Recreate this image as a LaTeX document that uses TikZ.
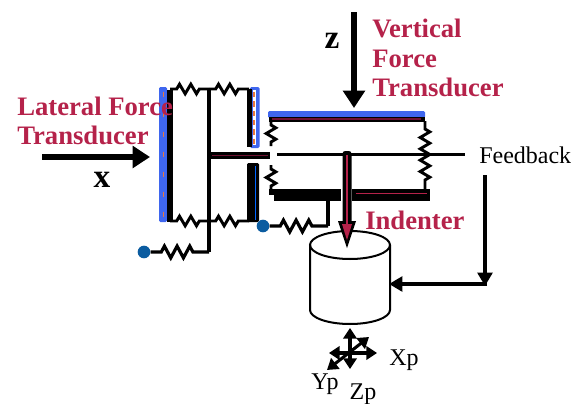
\documentclass[tikz,border=0pt]{standalone}
\usepackage{fontspec}
\setmainfont{Liberation Serif}
\usetikzlibrary{arrows.meta,decorations.pathmorphing,calc}
\definecolor{crim}{HTML}{B5224A}
\definecolor{plateblue}{HTML}{3F66EE}
\definecolor{dotblue}{HTML}{0B5CA0}
\definecolor{oran}{HTML}{E8783C}
\definecolor{maroon}{HTML}{6E1030}
\tikzset{
 wire/.style={black,line width=2.3pt,line join=round},
 spring/.style={black,line width=2.2pt,line join=miter,decorate,decoration={zigzag,segment length=8.5pt,amplitude=3.6pt,pre length=#1,post length=#1}},
 spring/.default=5pt,
 wide spring/.style={black,line width=2.4pt,line join=miter,decorate,decoration={zigzag,segment length=9.5pt,amplitude=4.4pt,pre length=#1,post length=#1}},
 plate/.style={fill=black,draw=none},
 blueplate/.style={fill=plateblue,draw=none,rounded corners=1pt},
 dot/.style={circle,fill=dotblue,draw=none,minimum size=9.5pt,inner sep=0pt},
 lab/.style={font=\fontsize{20pt}{22pt}\bfseries\selectfont,text=crim,align=left,anchor=west,inner sep=0pt},
 axlab/.style={font=\fontsize{18pt}{19pt}\selectfont,inner sep=0pt,anchor=center},
 bigarrow/.style={line width=3.8pt,-{Triangle[length=13pt,width=16pt]}},
 axarrow/.style={line width=2.3pt,{Triangle[length=8pt,width=10pt]}-{Triangle[length=8pt,width=10pt]}},
}
\begin{document}
\begin{tikzpicture}[x=0.75pt,y=-0.75pt]
\useasboundingbox (0,0) rectangle (587,404);
% named coordinates
\coordinate (tl) at (170,89); \coordinate (tm) at (209,89); \coordinate (tr) at (249,89);
\coordinate (bl) at (170,221); \coordinate (bm) at (209,221); \coordinate (br) at (249,221);
\coordinate (stemb) at (209,252);
\node[dot] (dotA) at (144,252) {};
\node[dot] (dotB) at (263,226) {};
\coordinate (armT) at (328,197); \coordinate (armB) at (328,226);
% left flexure
\fill[blueplate] (159,87) rectangle (167,222);
\draw[oran,line width=0.9pt,dash pattern=on 4pt off 11pt] (163.5,92) -- (163.5,220);
\fill[plate] (167,90) rectangle (173,222);
\fill[blueplate] (250,87) rectangle (259.5,148);
\fill[white] (253,90) rectangle (256,145);
\draw[oran,line width=0.9pt,dash pattern=on 4pt off 3pt] (254,92) -- (254,145);
\fill[plate] (247,89) rectangle (252,147);
\fill[plate,rounded corners=1pt] (247,163) rectangle (259,222);
\draw[blue!60!cyan,line width=0.6pt] (255,166) -- (255,220);
\draw[spring] (tl) -- (tm);
\draw[spring] (tm) -- (tr);
\draw[spring] (bl) -- (bm);
\draw[spring] (bm) -- (br);
\draw[wire] (tm) -- (stemb);
\draw[wide spring=8pt] (dotA) -- (stemb);
\fill[plate] (209,152) rectangle (270,159);
\draw[maroon,line width=1pt] (212,155.5) -- (268,155.5);
% right flexure
\fill[blueplate] (268,111) rectangle (425,118);
\fill[plate] (269,117) rectangle (425,122);
\draw[maroon,line width=1pt] (272,119) -- (421,119);
\draw[spring=3pt] (271,121) -- (271,146);
\draw[spring=3pt] (271,165) -- (271,191);
\draw[spring=6pt] (425,121) -- (425,191);
\fill[plate] (269,189) rectangle (341,195);
\fill[plate] (274,195) rectangle (341,201);
\fill[plate] (352,189) rectangle (430,201);
\draw[crim,line width=1.2pt] (356,193.5) -- (427,193.5);
\node[anchor=west,inner sep=0pt,font=\fontsize{18pt}{19pt}\selectfont] (fb) at (479,155) {Feedback};
\coordinate (beamL) at (277,154.5);
\coordinate (beamR) at (465,154.5);
\draw[line width=2.2pt] (beamL) -- (beamR);
\draw[wide spring=8pt] (dotB) -- (armB);
\draw[wire] (armB) -- (armT);
% cylinder
\draw[line width=1.5pt] (350,245) ellipse[x radius=40,y radius=14];
\draw[line width=1.5pt] (310,245) -- (310,310) arc[start angle=180,end angle=360,x radius=40,y radius=-14] -- (390,245);
% indenter
\fill[plate,rounded corners=2pt] (342.5,151) rectangle (351.5,226);
\fill[plate] (338,221) -- (356,221) -- (347,248) -- cycle;
\draw[crim,line width=1.4pt] (347,155) -- (347,226);
\fill[crim] (342,224) -- (352,224) -- (347,240) -- cycle;
% feedback loop
\coordinate (fbT) at (485,175); \coordinate (fbC) at (485,286); \coordinate (cyl) at (389,284);
\draw[line width=2.6pt,-{Triangle[length=10pt,width=11pt]}] (fbT) -- (fbC);
\draw[line width=2.6pt,-{Triangle[length=10pt,width=11pt]}] (487,284) -- (cyl);
% big arrows
\coordinate (zA) at (354,12); \coordinate (zB) at (354,108);
\draw[bigarrow] (zA) -- (zB);
\coordinate (xA) at (42,157); \coordinate (xB) at (150,157);
\draw[bigarrow] (xA) -- (xB);
% axes
\coordinate (up) at (350,328); \coordinate (dn) at (350,369);
\coordinate (lf) at (329,353); \coordinate (rt) at (377,353);
\coordinate (ne) at (369,337); \coordinate (sw) at (327,370);
\draw[axarrow] (up) -- (dn);
\draw[axarrow] (lf) -- (rt);
\draw[axarrow] (ne) -- (sw);
% labels
\node[lab] (vft) at (372,58) {\setlength{\baselineskip}{30pt}Vertical\\Force\\Transducer};
\node[lab] (lft) at (17,121) {\setlength{\baselineskip}{30pt}Lateral Force\\Transducer};
\node[lab] (ind) at (365,220) {Indenter};
\node[font=\fontsize{25pt}{26pt}\bfseries\selectfont,inner sep=0pt] (zl) at (332,41) {z};
\node[font=\fontsize{25pt}{26pt}\bfseries\selectfont,inner sep=0pt] (xl) at (102,180) {x};
\node[axlab] (xp) at (404,360) {Xp};
\node[axlab] (yp) at (325,384) {Yp};
\node[axlab] (zp) at (363,394) {Zp};
\end{tikzpicture}
\end{document}
